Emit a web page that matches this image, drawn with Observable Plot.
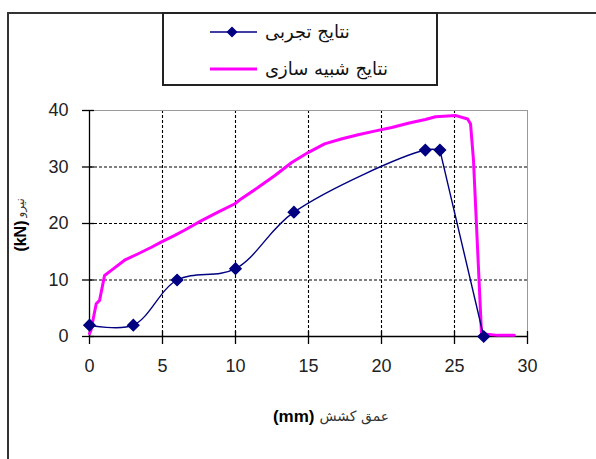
<!DOCTYPE html>
<html><head><meta charset="utf-8">
<script src="https://cdn.jsdelivr.net/npm/d3@7"></script>
<script src="https://cdn.jsdelivr.net/npm/@observablehq/plot@0.6"></script>
<style>
body{margin:0;background:#fff;}
#wrap{position:relative;width:596px;height:459px;overflow:hidden;font-family:"Liberation Sans",Arial,sans-serif;}
#chart{position:absolute;left:0;top:0;}
#frameL{position:absolute;left:7px;top:12px;width:2px;height:447px;background:#333;}
#frameT{position:absolute;left:7px;top:12px;width:589px;height:2px;background:#333;}
#legend{position:absolute;left:162px;top:12px;width:272px;height:70px;border:2px solid #222;background:#fff;}
</style></head><body>
<div id="wrap"><div id="chart"></div><div id="frameL"></div><div id="frameT"></div><div id="legend"></div></div>
<script>
// ---- data ----
const seriesNames = ["نتایج تجربی", "نتایج شبیه سازی"];
const seriesColors = ["#000080", "#ff00ff"];
const xTicks = [0, 5, 10, 15, 20, 25, 30];
const yTicks = [0, 10, 20, 30, 40];
const gridXTicks = [5, 10, 15, 20, 25];
const gridYTicks = [10, 20, 30];
const xLabelUnit = "(mm)";
const xLabelText = "عمق کشش";
const yLabelUnit = "(kN)";
const yLabelText = "نیرو";

// experimental results
const expX = [0, 3, 6, 10, 14, 23, 24, 27];
const expY = [2, 2, 10, 12, 22, 33, 33, 0];
// smoothed part ends at index 6 (x = 24); the last drop is straight
const expSmoothEnd = 6;

// simulation results
const simX = [0, 0.1, 0.46, 0.69, 1.03, 1.49, 2.4, 3.3, 4.24, 4.9, 5.84, 6.5, 7.67, 8.8, 9.96, 10.4, 11.56, 12.7, 13.85, 15.0, 16.1, 17.3, 18.4, 19.6, 20.7, 21.9, 23.0, 23.7, 25.1, 25.9, 26.1, 26.3, 26.85, 28.0, 29.1];
const simY = [0.5, 1.1, 5.8, 6.4, 10.8, 11.7, 13.5, 14.6, 15.8, 16.7, 17.9, 18.8, 20.5, 22.0, 23.5, 24.4, 26.4, 28.5, 30.8, 32.6, 34.1, 35.0, 35.7, 36.4, 37.0, 37.8, 38.4, 38.9, 39.1, 38.5, 37.6, 31.2, 0.5, 0.2, 0.2];

const exp = expX.map((x, i) => ({x, y: expY[i], i}));
const expSmooth = exp.filter(d => d.i <= expSmoothEnd);
const expStraight = exp.filter(d => d.i >= expSmoothEnd);
const sim = simX.map((x, i) => ({x, y: simY[i]}));

const chart = Plot.plot({
  width: 596,
  height: 459,
  marginLeft: 89,
  marginRight: 69,
  marginTop: 110,
  marginBottom: 123,
  style: {fontFamily: "Liberation Sans, Arial, sans-serif", background: "transparent"},
  x: {domain: [0, 30]},
  y: {domain: [0, 40]},
  marks: [
    Plot.ruleX(gridXTicks, {x: d => d, stroke: "#000", strokeWidth: 1.1, strokeDasharray: "3,2"}),
    Plot.ruleY(gridYTicks, {y: d => d, stroke: "#000", strokeWidth: 1.1, strokeDasharray: "3,2"}),
    Plot.ruleY([40], {y: d => d, stroke: "#999", strokeWidth: 1}),
    Plot.ruleX([30], {x: d => d, stroke: "#999", strokeWidth: 1}),
    Plot.ruleX([0], {x: d => d, stroke: "#000", strokeWidth: 1.3}),
    Plot.ruleY([0], {y: d => d, stroke: "#000", strokeWidth: 1.3}),
    Plot.ruleX(xTicks, {x: d => d, y1: 0, y2: 0, insetTop: -5, insetBottom: -8, stroke: "#000", strokeWidth: 1.3}),
    Plot.ruleY(yTicks, {y: d => d, x1: 0, x2: 0, insetLeft: -7, insetRight: -5, stroke: "#000", strokeWidth: 1.3}),
    Plot.axisX({ticks: xTicks, tickSize: 0, tickPadding: 23, fontSize: 18, fill: "#222", label: null}),
    Plot.axisY({ticks: yTicks, tickSize: 0, tickPadding: 21, fontSize: 18, fill: "#222", label: null}),
    Plot.line(sim, {x: "x", y: "y", stroke: seriesColors[1], strokeWidth: 3, strokeLinejoin: "round"}),
    Plot.line(expSmooth, {x: "x", y: "y", stroke: seriesColors[0], strokeWidth: 1.4, curve: "catmull-rom"}),
    Plot.line(expStraight, {x: "x", y: "y", stroke: seriesColors[0], strokeWidth: 1.4}),
    Plot.dot(exp, {x: "x", y: "y", symbol: "diamond2", r: 5, fill: seriesColors[0], stroke: seriesColors[0]}),
    Plot.text([xLabelUnit], {frameAnchor: "bottom", dx: 6, dy: 80, textAnchor: "end", lineAnchor: "middle", fontWeight: "bold", fontSize: 17, fill: "#000"}),
    Plot.text([xLabelText], {frameAnchor: "bottom", dx: 11, dy: 80, textAnchor: "start", lineAnchor: "middle", fontSize: 14, fill: "#333", fontFamily: "DejaVu Sans"}),
    Plot.text([yLabelUnit], {frameAnchor: "left", dx: -69, dy: -3, rotate: -90, textAnchor: "end", lineAnchor: "middle", fontWeight: "bold", fontSize: 16, fill: "#000"}),
    Plot.text([yLabelText], {frameAnchor: "left", dx: -69, dy: -6, rotate: -90, textAnchor: "start", lineAnchor: "middle", fontSize: 12, fill: "#333", fontFamily: "DejaVu Sans"})
  ]
});
document.getElementById("chart").appendChild(chart);

// ---- legend ----
const lg = d3.select("#legend").append("svg").attr("width", 272).attr("height", 70);
const rows = [18, 55];
seriesNames.forEach((name, i) => {
  const g = lg.append("g").attr("transform", `translate(0,${rows[i]})`);
  g.append("line").attr("x1", 46).attr("x2", 93).attr("y1", 0).attr("y2", 0)
    .attr("stroke", seriesColors[i]).attr("stroke-width", i === 0 ? 1.4 : 3);
  if (i === 0) {
    g.append("path").attr("d", d3.symbol(d3.symbolDiamond2, 78)()).attr("transform", "translate(68,0)")
      .attr("fill", seriesColors[0]);
  }
  g.append("text").attr("x", 101).attr("y", 0).attr("dy", "0.35em")
    .attr("font-family", "DejaVu Sans").attr("font-size", 18).attr("fill", "#111").text(name);
});
</script>
</body></html>
